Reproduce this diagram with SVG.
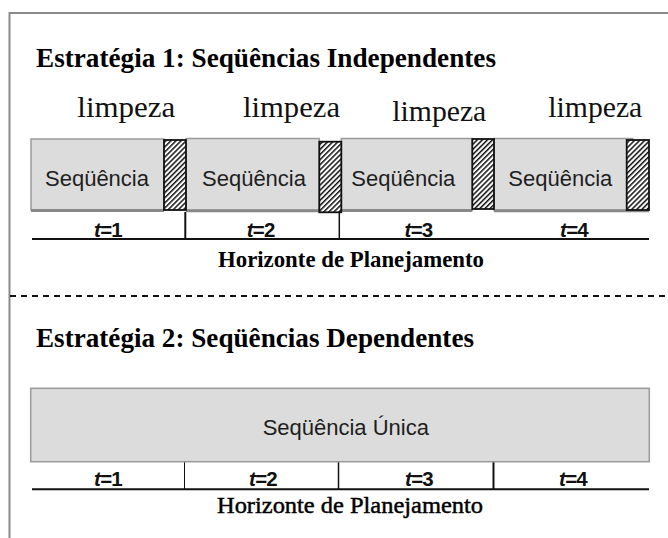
<svg xmlns="http://www.w3.org/2000/svg" width="668" height="538" viewBox="0 0 668 538">
<defs>
<pattern id="hatch" patternUnits="userSpaceOnUse" width="3.6" height="3.6" patternTransform="rotate(45)">
<rect x="0" y="0" width="3.6" height="3.6" fill="#fff"/>
<rect x="0" y="0" width="1.5" height="3.6" fill="#111"/>
</pattern>
</defs>
<style>
.title{font-family:"Liberation Serif","Times New Roman",serif;font-weight:bold;font-size:27px;fill:#000}
.limp{font-family:"Liberation Serif","Times New Roman",serif;font-size:30px;fill:#111}
.hor{font-family:"Liberation Serif","Times New Roman",serif;font-size:22.8px;fill:#000;text-anchor:middle}
.seq{font-family:"Liberation Sans",Arial,sans-serif;font-size:22px;fill:#1e1e1e;text-anchor:middle}
.tl{font-family:"Liberation Sans",Arial,sans-serif;font-size:20.5px;font-weight:bold;fill:#111;text-anchor:middle;letter-spacing:-0.8px}
.box{fill:#dcdcdc;stroke:#9a9a9a;stroke-width:1.5}
.shadow{stroke:#888;stroke-width:3}
.hatch{fill:url(#hatch);stroke:#111;stroke-width:1.8}
.axis{stroke:#111;stroke-width:2;fill:none}
.tick{stroke:#111;fill:none}
.frame{stroke:#8a8a8a;stroke-width:2;fill:none}
</style>
<rect width="668" height="538" fill="#fff"/>

<g id="connectors">
<path class="frame" d="M9.5,538 V13 H668"/>
<line x1="10" y1="296" x2="668" y2="296" stroke="#111" stroke-width="2" stroke-dasharray="6 5"/>
<line class="axis" x1="32" y1="239" x2="649" y2="239"/>
<line class="tick" x1="185.3" y1="212" x2="185.3" y2="239" stroke-width="2"/>
<line class="tick" x1="339.3" y1="212" x2="339.3" y2="239" stroke-width="1.5"/>
<line class="axis" x1="32" y1="489.3" x2="649" y2="489.3"/>
<line class="tick" x1="184.5" y1="462" x2="184.5" y2="490" stroke-width="1"/>
<line class="tick" x1="338.5" y1="462" x2="338.5" y2="489" stroke-width="1.5"/>
<line class="tick" x1="493.5" y1="462" x2="493.5" y2="489" stroke-width="2"/>
</g>

<g id="title1"><text class="title" x="36" y="66.7" textLength="460" lengthAdjust="spacingAndGlyphs">Estratégia 1: Seqüências Independentes</text></g>

<g id="limpeza-labels">
<text class="limp" x="77.3" y="116.7" textLength="98" lengthAdjust="spacingAndGlyphs">limpeza</text>
<text class="limp" x="243" y="116.7" textLength="97" lengthAdjust="spacingAndGlyphs">limpeza</text>
<text class="limp" x="392.3" y="120.7" textLength="94" lengthAdjust="spacingAndGlyphs">limpeza</text>
<text class="limp" x="548.3" y="116.7" textLength="94" lengthAdjust="spacingAndGlyphs">limpeza</text>
</g>

<g id="seq1">
<rect class="box" x="31" y="139" width="133" height="71"/>
<line class="shadow" x1="31" y1="210.5" x2="164" y2="210.5"/>
<text class="seq" x="97" y="185.5">Seqüência</text>
</g>
<g id="seq2">
<rect class="box" x="186" y="138.5" width="133.3" height="72"/>
<line class="shadow" x1="186" y1="210.8" x2="319.3" y2="210.8"/>
<text class="seq" x="254" y="185.5">Seqüência</text>
</g>
<g id="seq3">
<rect class="box" x="341.3" y="138.5" width="131" height="71.5"/>
<line class="shadow" x1="341.3" y1="210.5" x2="472.3" y2="210.5"/>
<text class="seq" x="403.3" y="185.5">Seqüência</text>
</g>
<g id="seq4">
<rect class="box" x="494" y="138.5" width="138.7" height="72"/>
<line class="shadow" x1="494" y1="210.8" x2="649" y2="210.8"/>
<text class="seq" x="560.3" y="185.5">Seqüência</text>
</g>

<g id="clean1"><rect class="hatch" x="164" y="140" width="22" height="70"/></g>
<g id="clean2"><rect class="hatch" x="319.3" y="141.7" width="22" height="70.6"/></g>
<g id="clean3"><rect class="hatch" x="472.3" y="139" width="21.7" height="70"/></g>
<g id="clean4"><rect class="hatch" x="626.7" y="140" width="22.3" height="70"/></g>

<g id="periods1">
<text class="tl" x="108" y="236.5"><tspan font-style="italic">t</tspan>=1</text>
<text class="tl" x="260.7" y="236.5"><tspan font-style="italic">t</tspan>=2</text>
<text class="tl" x="418.5" y="236.5"><tspan font-style="italic">t</tspan>=3</text>
<text class="tl" x="574" y="236.5"><tspan font-style="italic">t</tspan>=4</text>
</g>
<g id="horizon1"><text class="hor" x="351" y="266.7" font-weight="bold" textLength="266" lengthAdjust="spacingAndGlyphs">Horizonte de Planejamento</text></g>

<g id="title2"><text class="title" x="36" y="346.7" textLength="438" lengthAdjust="spacingAndGlyphs">Estratégia 2: Seqüências Dependentes</text></g>

<g id="seq-unica">
<rect class="box" x="30.7" y="388.3" width="618.6" height="73.4" stroke-width="2"/>
<text class="seq" x="345.8" y="435">Seqüência Única</text>
</g>

<g id="periods2">
<text class="tl" x="108" y="485.5"><tspan font-style="italic">t</tspan>=1</text>
<text class="tl" x="263" y="485.5"><tspan font-style="italic">t</tspan>=2</text>
<text class="tl" x="419" y="485.5"><tspan font-style="italic">t</tspan>=3</text>
<text class="tl" x="573" y="485.5"><tspan font-style="italic">t</tspan>=4</text>
</g>
<g id="horizon2"><text class="hor" x="350" y="513.3" stroke="#000" stroke-width="0.45" textLength="266" lengthAdjust="spacingAndGlyphs">Horizonte de Planejamento</text></g>
</svg>
